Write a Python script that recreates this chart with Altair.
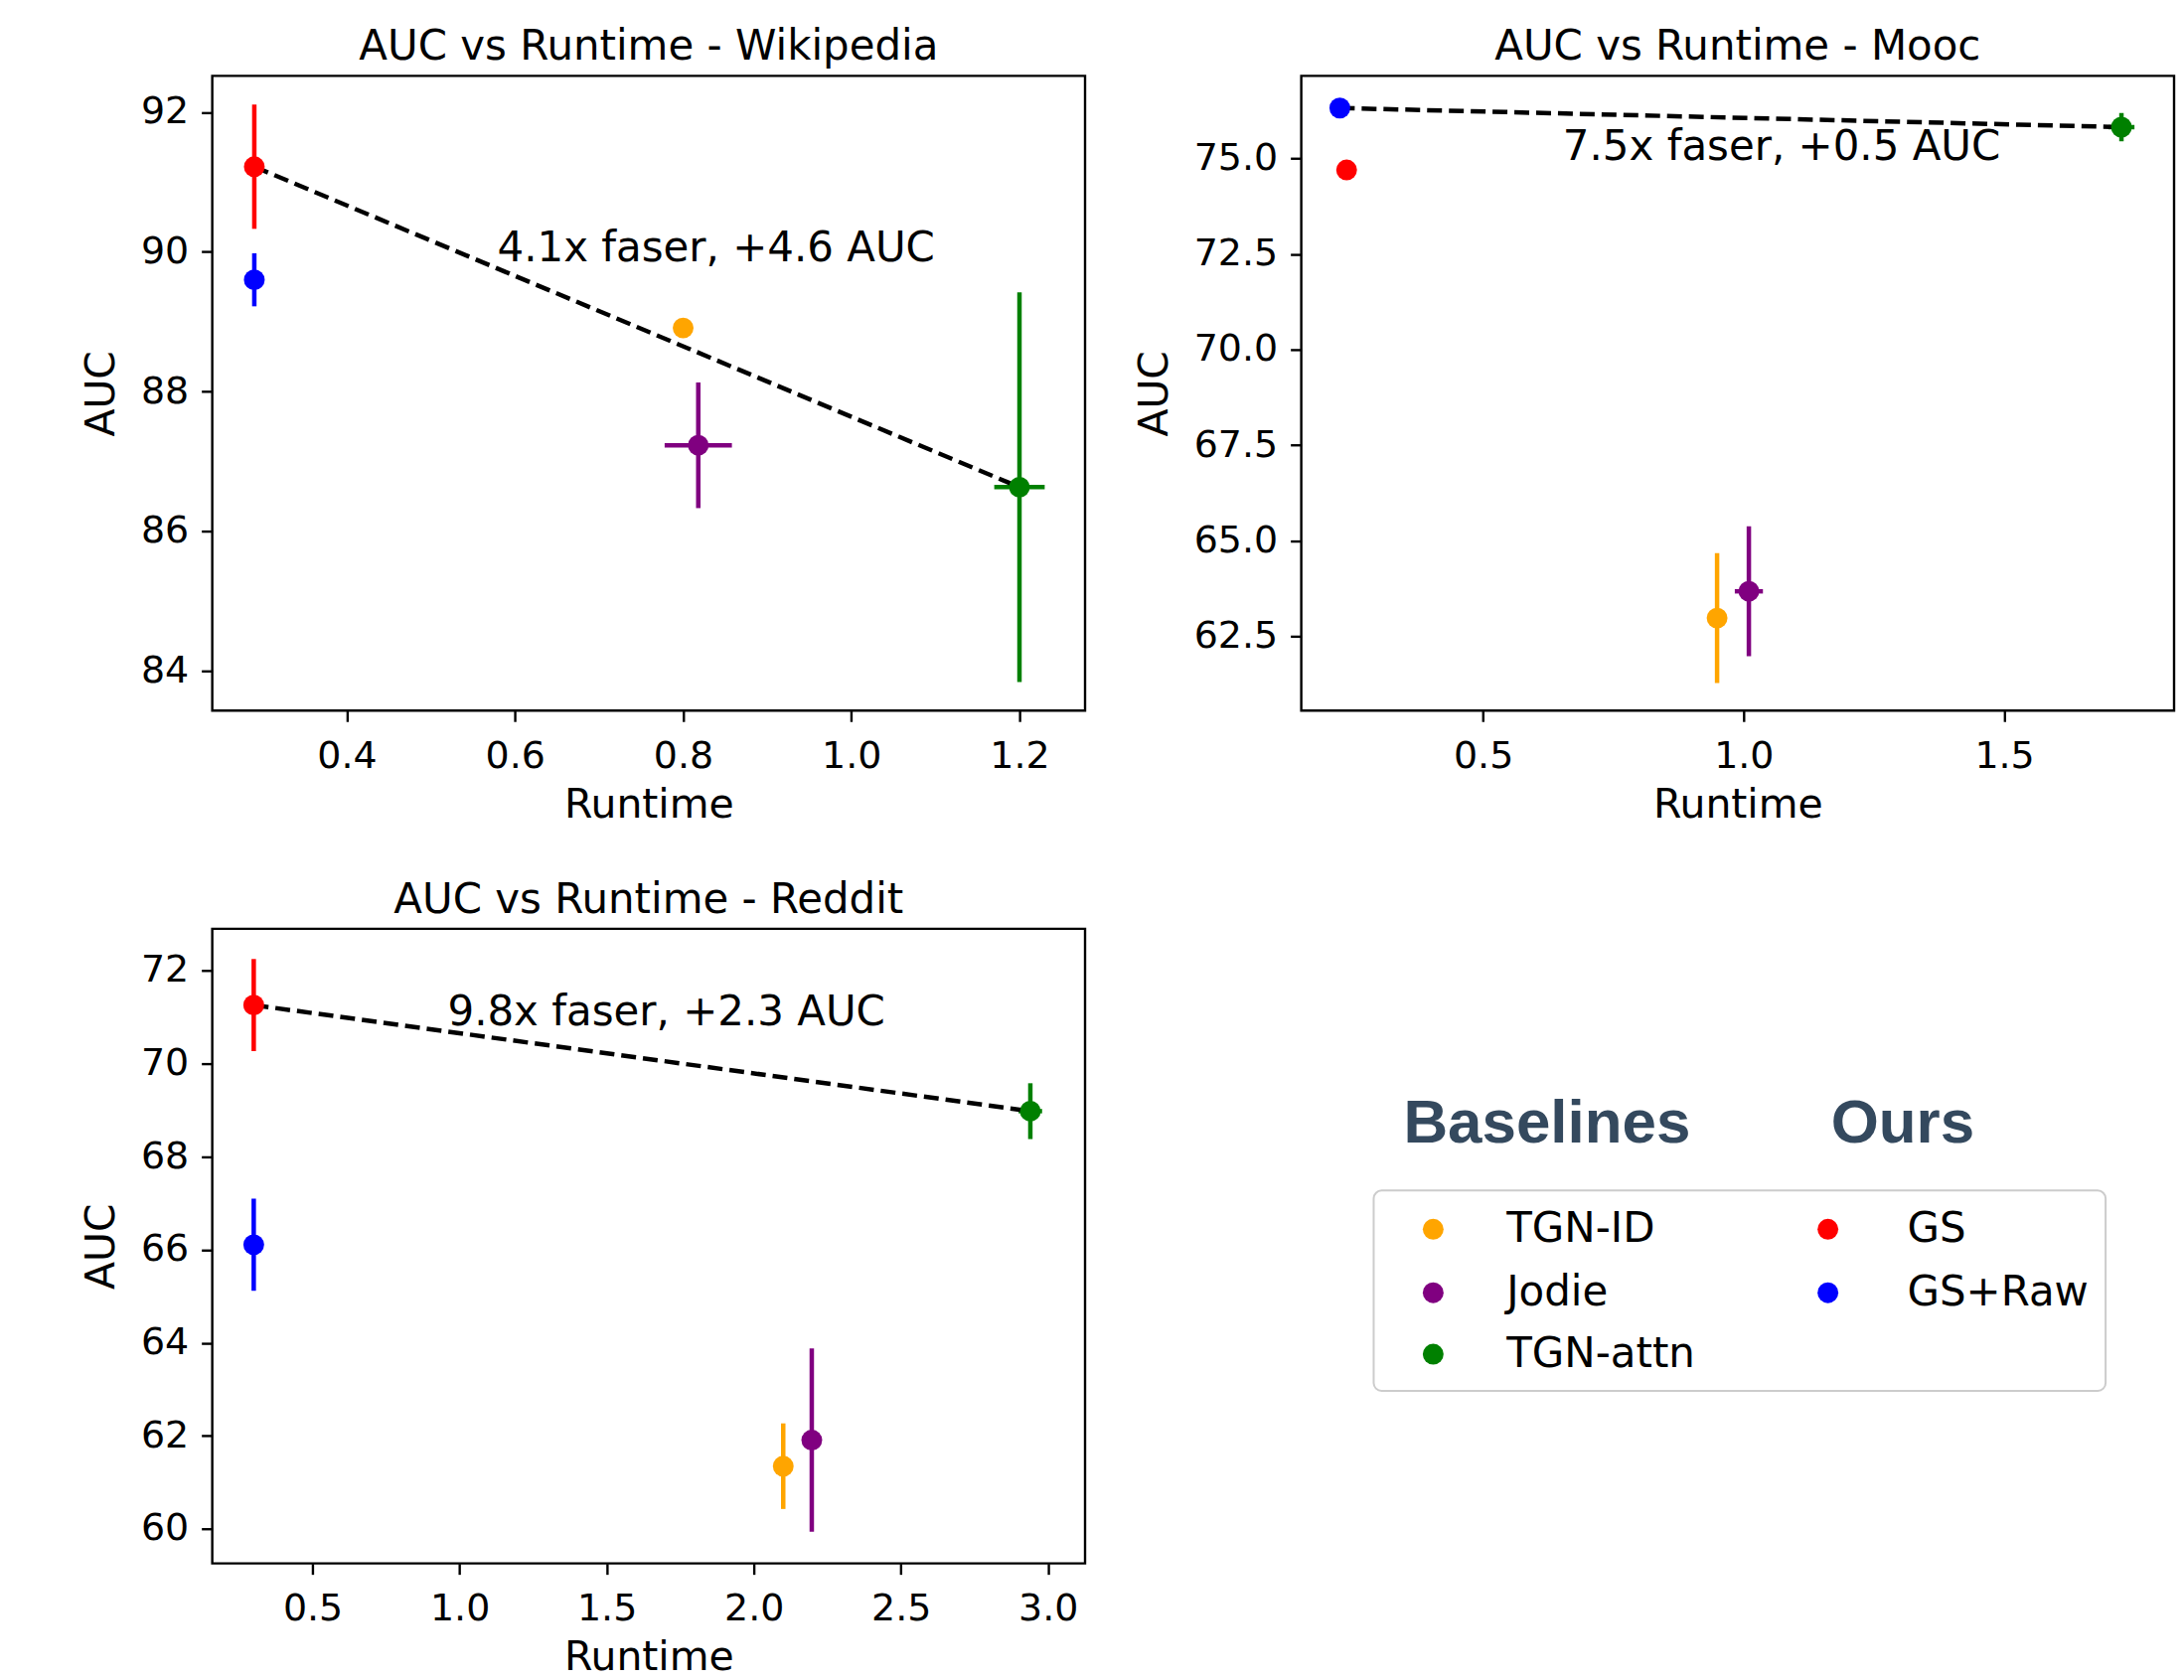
import altair as alt
import pandas as pd

# ---------------- data ----------------
MODELS = ["TGN-ID", "Jodie", "TGN-attn", "GS", "GS+Raw"]
COLORS = ["orange", "purple", "green", "red", "blue"]
GROUPS = ["Baselines", "Baselines", "Baselines", "Ours", "Ours"]
LEGEND_ROW = [0, 1, 2, 0, 1]

wiki_runtime = [0.80, 0.818, 1.20, 0.29, 0.29]
wiki_runtime_err = [0.0, 0.04, 0.03, 0.0, 0.0]
wiki_auc = [88.91, 87.23, 86.63, 91.22, 89.60]
wiki_auc_err = [0.10, 0.90, 2.79, 0.89, 0.38]

mooc_runtime = [0.949, 1.01, 1.725, 0.238, 0.225]
mooc_runtime_err = [0.0, 0.027, 0.025, 0.0, 0.0]
mooc_auc = [62.98, 63.68, 75.82, 74.70, 76.32]
mooc_auc_err = [1.70, 1.70, 0.37, 0.0, 0.0]

reddit_runtime = [2.10, 2.197, 2.94, 0.30, 0.30]
reddit_runtime_err = [0.02, 0.0, 0.04, 0.0, 0.0]
reddit_auc = [61.35, 61.91, 68.98, 71.26, 66.11]
reddit_auc_err = [0.92, 1.97, 0.60, 0.99, 0.99]

wiki_xticks = [0.4, 0.6, 0.8, 1.0, 1.2]
wiki_yticks = [84, 86, 88, 90, 92]
mooc_xticks = [0.5, 1.0, 1.5]
mooc_yticks = [62.5, 65.0, 67.5, 70.0, 72.5, 75.0]
reddit_xticks = [0.5, 1.0, 1.5, 2.0, 2.5, 3.0]
reddit_yticks = [60, 62, 64, 66, 68, 70, 72]

notes = ["4.1x faser, +4.6 AUC", "7.5x faser, +0.5 AUC", "9.8x faser, +2.3 AUC"]
note_x = [0.579, 0.653, 0.959]
note_y = [90.05, 75.30, 71.10]
link_from = ["GS", "GS+Raw", "GS"]
link_to = ["TGN-attn", "TGN-attn", "TGN-attn"]

# ---------------- styles ----------------
FONT = "DejaVu Sans"
PW, PH = 880, 640
FRAME = alt.ViewBackground(stroke="black", strokeWidth=2.4, fill="white")


def panel(title, rt, rt_err, auc, auc_err, xdom, ydom, xticks, yticks, yfmt, k):
    df = pd.DataFrame({"model": MODELS, "runtime": rt, "rt_err": rt_err,
                       "auc": auc, "auc_err": auc_err})
    df["rt_lo"] = df.runtime - df.rt_err
    df["rt_hi"] = df.runtime + df.rt_err
    df["auc_lo"] = df.auc - df.auc_err
    df["auc_hi"] = df.auc + df.auc_err

    xs = alt.Scale(domain=xdom, nice=False, zero=False)
    ys = alt.Scale(domain=ydom, nice=False, zero=False)
    common = dict(grid=False, domain=False, tickColor="black", tickSize=11,
                  tickWidth=2.4, labelFont=FONT, labelFontSize=38,
                  labelColor="black", titleFont=FONT, titleFontSize=41,
                  titleFontWeight="normal", titleColor="black",
                  labelFlush=False, labelOverlap=False)
    xaxis = alt.Axis(values=xticks, format=".1f", title="Runtime",
                     labelPadding=16, titlePadding=10, **common)
    yaxis = alt.Axis(values=yticks, format=yfmt, title="AUC",
                     labelPadding=13, titlePadding=18, **common)
    color = alt.Color("model:N", scale=alt.Scale(domain=MODELS, range=COLORS),
                      legend=None)

    base = alt.Chart(df)
    vbar = base.transform_filter("datum.auc_err > 0").mark_rule(strokeWidth=4.5).encode(
        x=alt.X("runtime:Q", scale=xs, axis=xaxis),
        y=alt.Y("auc_lo:Q", scale=ys, axis=yaxis),
        y2="auc_hi:Q", color=color)
    hbar = base.transform_filter("datum.rt_err > 0").mark_rule(strokeWidth=4.5).encode(
        x=alt.X("rt_lo:Q", scale=xs), x2="rt_hi:Q",
        y=alt.Y("auc:Q", scale=ys), color=color)

    a = df[df.model == link_from[k]].iloc[0]
    b = df[df.model == link_to[k]].iloc[0]
    ldf = pd.DataFrame({"runtime": [a.runtime, b.runtime], "auc": [a.auc, b.auc]})
    line = alt.Chart(ldf).mark_line(color="black", strokeDash=[15, 7],
                                    strokeWidth=4.5).encode(
        x=alt.X("runtime:Q", scale=xs), y=alt.Y("auc:Q", scale=ys))

    pts = base.mark_circle(size=440, opacity=1).encode(
        x=alt.X("runtime:Q", scale=xs), y=alt.Y("auc:Q", scale=ys), color=color)

    ndf = pd.DataFrame({"t": [notes[k]], "x": [note_x[k]], "y": [note_y[k]]})
    note = alt.Chart(ndf).mark_text(align="left", baseline="middle", font=FONT,
                                    fontSize=42, color="black").encode(
        x=alt.X("x:Q", scale=xs), y=alt.Y("y:Q", scale=ys), text="t:N")

    return alt.layer(vbar, hbar, line, pts, note).properties(
        width=PW, height=PH, view=FRAME,
        title=alt.TitleParams(title, font=FONT, fontSize=42, fontWeight="normal",
                              color="black", offset=-35, baseline="bottom"))


wiki = panel("AUC vs Runtime - Wikipedia", wiki_runtime, wiki_runtime_err, wiki_auc,
             wiki_auc_err, [0.240, 1.278], [83.43, 92.52], wiki_xticks, wiki_yticks,
             ".0f", 0)
mooc = panel("AUC vs Runtime - Mooc", mooc_runtime, mooc_runtime_err, mooc_auc,
             mooc_auc_err, [0.151, 1.826], [60.56, 77.16], mooc_xticks, mooc_yticks,
             ".1f", 1)
reddit = panel("AUC vs Runtime - Reddit", reddit_runtime, reddit_runtime_err,
               reddit_auc, reddit_auc_err, [0.159, 3.126], [59.26, 72.90],
               reddit_xticks, reddit_yticks, ".0f", 2)

# ---------------- legend panel (layout in panel pixels) ----------------
LG_MARKER_X = [133, 531]
LG_TEXT_X = [207, 611]
LG_ROW_Y = [303, 367, 429]
LG_BOX = [73, 811, 264, 466]
LG_HEAD_X = [103, 534]
LG_HEAD_Y = 216

col = [0 if g == "Baselines" else 1 for g in GROUPS]
lg = pd.DataFrame({
    "model": MODELS,
    "mx": [LG_MARKER_X[c] for c in col],
    "tx": [LG_TEXT_X[c] for c in col],
    "y": [LG_ROW_Y[r] for r in LEGEND_ROW],
})
heads = pd.DataFrame({"t": ["Baselines", "Ours"], "x": LG_HEAD_X,
                      "y": [LG_HEAD_Y, LG_HEAD_Y]})
box = pd.DataFrame({"x": [LG_BOX[0]], "x2": [LG_BOX[1]], "y": [LG_BOX[2]],
                    "y2": [LG_BOX[3]]})

lx = alt.Scale(domain=[0, PW], nice=False, zero=False)
ly = alt.Scale(domain=[0, PH], nice=False, zero=False, reverse=True)

boxm = alt.Chart(box).mark_rect(fillOpacity=0, stroke="#cccccc", strokeWidth=2,
                                cornerRadius=8).encode(
    x=alt.X("x:Q", scale=lx, axis=None), x2="x2:Q",
    y=alt.Y("y:Q", scale=ly, axis=None), y2="y2:Q")
lpts = alt.Chart(lg).mark_circle(size=440, opacity=1).encode(
    x=alt.X("mx:Q", scale=lx, axis=None), y=alt.Y("y:Q", scale=ly, axis=None),
    color=alt.Color("model:N", scale=alt.Scale(domain=MODELS, range=COLORS),
                    legend=None))
ltxt = alt.Chart(lg).mark_text(align="left", baseline="middle", font=FONT,
                               fontSize=42, color="black").encode(
    x=alt.X("tx:Q", scale=lx, axis=None), y=alt.Y("y:Q", scale=ly, axis=None),
    text="model:N")
lhead = alt.Chart(heads).mark_text(align="left", baseline="alphabetic",
                                   font="Liberation Sans", fontWeight="bold",
                                   fontSize=62, color="#34495e").encode(
    x=alt.X("x:Q", scale=lx, axis=None), y=alt.Y("y:Q", scale=ly, axis=None),
    text="t:N")

legend_panel = alt.layer(boxm, lpts, ltxt, lhead).properties(
    width=PW, height=PH, view=alt.ViewBackground(stroke="transparent"))

chart = alt.concat(wiki, mooc, reddit, legend_panel, columns=2, bounds="flush",
                   spacing={"row": 220, "column": 218}).resolve_scale(
    x="independent", y="independent", color="shared"
).properties(
    padding={"left": 72, "top": 15, "right": 0, "bottom": 0}
).configure(background="white")

chart.save("out.html", embed_options={"renderer": "svg", "actions": False})
